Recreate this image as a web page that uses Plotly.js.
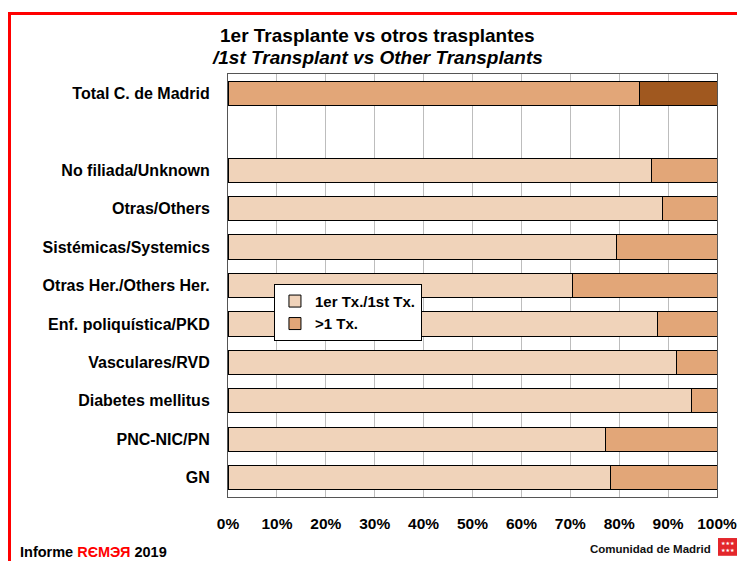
<!DOCTYPE html>
<html>
<head>
<meta charset="utf-8">
<script src="https://cdn.plot.ly/plotly-3.0.1.min.js"></script>
<style>
  html, body { margin: 0; padding: 0; background: #fff; }
  #wrap { position: relative; width: 737px; height: 561px; overflow: hidden; }
  #chart { position: absolute; left: 0; top: 0; width: 737px; height: 561px; }
  #frame { position: absolute; left: 8px; top: 12px; width: 740px; height: 560px;
           border-left: 3px solid #ff0000; border-top: 3px solid #ff0000; pointer-events: none; }
</style>
</head>
<body>
<div id="wrap">
  <div id="chart"></div>
  <div id="frame"></div>
</div>
<script>
// Categories, bottom to top (blank row separates the total)
const categories = [
  "GN",
  "PNC-NIC/PN",
  "Diabetes mellitus",
  "Vasculares/RVD",
  "Enf. poliquística/PKD",
  "Otras Her./Others Her.",
  "Sistémicas/Systemics",
  "Otras/Others",
  "No filiada/Unknown",
  " ",
  "Total C. de Madrid"
];
// % first transplant
const firstTx = [78.2, 77.1, 94.7, 91.8, 87.8, 70.4, 79.5, 88.9, 86.7, null, 84.2];
// % more than one transplant
const moreTx = [21.8, 22.9, 5.3, 8.2, 12.2, 29.6, 20.5, 11.1, 13.3, null, 15.8];
const xTickVals = [0, 10, 20, 30, 40, 50, 60, 70, 80, 90, 100];
const xTickText = ["0%", "10%", "20%", "30%", "40%", "50%", "60%", "70%", "80%", "90%", "100%"];

const cLight = "#F0D3BA", cMed = "#E2A678", cDark = "#A0581F";
const totalName = "Total C. de Madrid";
const col1 = categories.map(c => c === totalName ? cMed : cLight);
const col2 = categories.map(c => c === totalName ? cDark : cMed);

const font = "Liberation Sans, Arial, sans-serif";

const traces = [
  { type: "bar", orientation: "h", y: categories, x: firstTx, name: "<b>1er Tx./1st Tx.</b>",
    marker: { color: col1, line: { color: "#000", width: 1 } } },
  { type: "bar", orientation: "h", y: categories, x: moreTx, name: "<b>>1 Tx.</b>",
    marker: { color: col2, line: { color: "#000", width: 1 } } }
];

const layout = {
  width: 737, height: 561,
  margin: { l: 228, r: 20, t: 74, b: 64 },
  paper_bgcolor: "#fff", plot_bgcolor: "#fff",
  barmode: "stack", bargap: 0.37,
  showlegend: true,
  legend: {
    x: 0.094, y: 0.504, xanchor: "left", yanchor: "top",
    bgcolor: "#fff", bordercolor: "#000", borderwidth: 1,
    font: { family: font, size: 15, color: "#000" },
    traceorder: "normal", tracegroupgap: 6, itemwidth: 30
  },
  xaxis: {
    range: [0, 100], tickvals: xTickVals, ticktext: xTickText,
    showgrid: true, gridcolor: "#BDBDBD", gridwidth: 1,
    showline: true, mirror: true, linecolor: "#555", linewidth: 1,
    ticks: "", zeroline: false, ticklabelstandoff: 12, ticklabeloverflow: "allow",
    tickfont: { family: font, size: 15.5, color: "#000", weight: "bold" },
    fixedrange: true
  },
  yaxis: {
    type: "category", categoryorder: "array", categoryarray: categories,
    range: [-0.5, categories.length - 0.5],
    showgrid: false, showline: true, mirror: true, linecolor: "#555", linewidth: 1,
    ticks: "", ticklabelstandoff: 14,
    tickfont: { family: font, size: 16, color: "#000", weight: "bold" },
    fixedrange: true
  },
  shapes: [
    { type: "rect", xref: "paper", yref: "paper", x0: 1.002, x1: 1.045,
      y0: -0.139, y1: -0.097, fillcolor: "#E3262B", line: { width: 0 } }
  ],
  annotations: [
    { xref: "paper", yref: "paper", x: 0.305, y: 1.092, xanchor: "center", yanchor: "middle",
      showarrow: false, text: "<b>1er Trasplante vs otros trasplantes</b>",
      font: { family: font, size: 19, color: "#000" } },
    { xref: "paper", yref: "paper", x: 0.305, y: 1.040, xanchor: "center", yanchor: "middle",
      showarrow: false, text: "<b><i>/1st Transplant vs Other Transplants</i></b>",
      font: { family: font, size: 19, color: "#000" } },
    { xref: "paper", yref: "paper", x: -0.429, y: -0.131, xanchor: "left", yanchor: "middle",
      showarrow: false, align: "left",
      text: "<b>Informe <span style='color:#ff0000'>RЄMЭЯ</span> 2019</b>",
      font: { family: font, size: 14.5, color: "#000" } },
    { xref: "paper", yref: "paper", x: 0.992, y: -0.123, xanchor: "right", yanchor: "middle",
      showarrow: false, text: "<b>Comunidad de Madrid</b>",
      font: { family: font, size: 11.5, color: "#111" } },
    { xref: "paper", yref: "paper", x: 1.022, y: -0.118, xanchor: "center", yanchor: "middle",
      showarrow: false, text: "★★★<br>★★★", align: "center",
      font: { family: "DejaVu Sans", size: 5, color: "#fff" } }
  ],
  hovermode: false
};

Plotly.newPlot("chart", traces, layout, { displayModeBar: false, staticPlot: true });
</script>
</body>
</html>
